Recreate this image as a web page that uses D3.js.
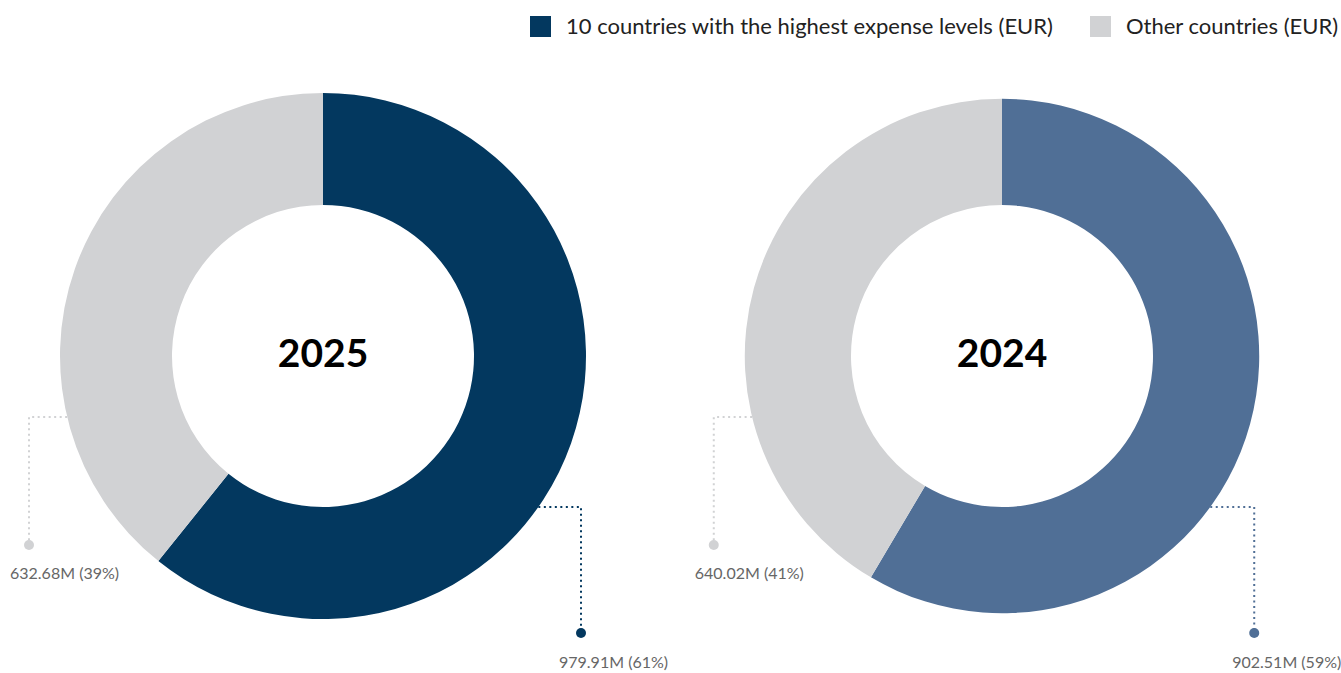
<!DOCTYPE html>
<html>
<head>
<meta charset="utf-8">
<script src="https://cdn.jsdelivr.net/npm/d3@7"></script>
<style>
  body { margin: 0; background: #fff; }
  svg text { font-family: Lato, "Open Sans", sans-serif; }
</style>
</head>
<body>
<svg id="chart"></svg>
<script>
// values
var years = ["2025", "2024"];
var topTen = [979.91, 902.51];
var others = [632.68, 640.02];
var seriesNames = ["10 countries with the highest expense levels (EUR)", "Other countries (EUR)"];
var topColors = ["#03385f", "#506f96"];
var otherColor = "#d1d2d4";

var width = 1341, height = 673;
var svg = d3.select("#chart").attr("width", width).attr("height", height);

var cy = 356;
var xPos = d3.scaleOrdinal().domain(years).range([323, 1002]);
var totals = years.map(function(y, i) { return topTen[i] + others[i]; });
// outer radius grows with the total
var rScale = d3.scaleSqrt().domain([0, d3.max(totals)]).range([0, 263]);
var innerR = 151;

var pie = d3.pie().sort(null).value(function(d) { return d.value; });

years.forEach(function(year, i) {
    var cx = xPos(year);
    var outerR = rScale(totals[i]);
    var slices = [
        {key: "top", value: topTen[i], color: topColors[i]},
        {key: "other", value: others[i], color: otherColor}
    ];
    var arc = d3.arc().innerRadius(innerR).outerRadius(outerR);

    var g = svg.append("g").attr("transform", "translate(" + cx + "," + cy + ")");
    g.selectAll("path").data(pie(slices)).enter().append("path")
        .attr("d", arc)
        .attr("fill", function(d) { return d.data.color; });

    g.append("text")
        .attr("text-anchor", "middle")
        .attr("y", 11)
        .attr("font-size", "39px")
        .attr("font-weight", "bold")
        .attr("fill", "#000")
        .text(year);

    // callouts
    var pct = function(v) { return Math.round(v / totals[i] * 100) + "%"; };
    var fmt = function(v) { return d3.format(".2f")(v) + "M (" + pct(v) + ")"; };

    // top ten: right side, lower
    var yTop = 151;
    var xEdgeTop = Math.sqrt(outerR * outerR - yTop * yTop);
    var xLineTop = outerR - 5;
    g.append("polyline")
        .attr("points", [[xEdgeTop, yTop], [xLineTop, yTop], [xLineTop, 277]].join(" "))
        .attr("fill", "none")
        .attr("stroke", topColors[i])
        .attr("stroke-width", 2)
        .attr("stroke-dasharray", "2 3.5");
    g.append("circle").attr("cx", xLineTop).attr("cy", 277).attr("r", 5).attr("fill", topColors[i]);
    g.append("text")
        .attr("x", xLineTop - 22)
        .attr("y", 312)
        .attr("font-size", "16px")
        .attr("fill", "#666")
        .text(fmt(topTen[i]));

    // others: left side
    var yOth = 61;
    var xEdgeOth = -Math.sqrt(outerR * outerR - yOth * yOth);
    var xLineOth = -(outerR + 31);
    g.append("polyline")
        .attr("points", [[xEdgeOth, yOth], [xLineOth, yOth], [xLineOth, 189]].join(" "))
        .attr("fill", "none")
        .attr("stroke", otherColor)
        .attr("stroke-width", 2)
        .attr("stroke-dasharray", "2 3.5");
    g.append("circle").attr("cx", xLineOth).attr("cy", 189).attr("r", 5).attr("fill", otherColor);
    g.append("text")
        .attr("x", xLineOth - 19)
        .attr("y", 223)
        .attr("font-size", "16px")
        .attr("fill", "#666")
        .text(fmt(others[i]));
});

// legend
var legendColors = [topColors[0], otherColor];
var legendX = [530, 1090];
var legend = svg.append("g");
seriesNames.forEach(function(name, i) {
    legend.append("rect")
        .attr("x", legendX[i]).attr("y", 16)
        .attr("width", 21).attr("height", 21)
        .attr("fill", legendColors[i]);
    legend.append("text")
        .attr("x", legendX[i] + 36).attr("y", 34)
        .attr("font-size", "22px")
        .attr("fill", "#222")
        .text(name);
});
</script>
</body>
</html>
